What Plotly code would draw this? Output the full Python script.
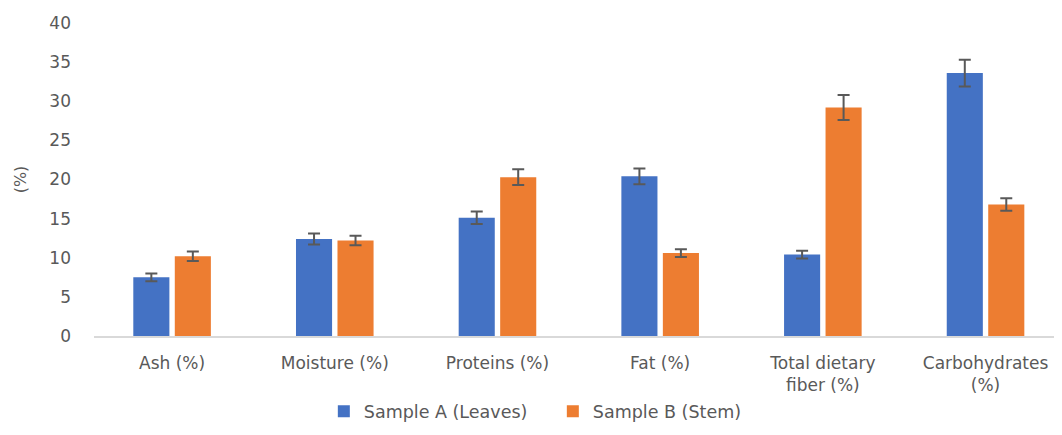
import plotly.graph_objects as go

categories = ["Ash (%)", "Moisture (%)", "Proteins (%)", "Fat (%)",
              "Total dietary<br>fiber (%)", "Carbohydrates<br>(%)"]
sample_a = [7.5, 12.4, 15.1, 20.4, 10.4, 33.6]
sample_a_err = [0.5, 0.7, 0.8, 1.0, 0.5, 1.7]
sample_b = [10.2, 12.2, 20.3, 10.6, 29.2, 16.8]
sample_b_err = [0.6, 0.6, 1.0, 0.5, 1.6, 0.8]
y_ticks = [0, 5, 10, 15, 20, 25, 30, 35, 40]

font_fam = "DejaVu Sans, sans-serif"
gray = "#595959"
fs = 17

fig = go.Figure()
fig.add_trace(go.Bar(
    name="Sample A (Leaves)", x=categories, y=sample_a,
    marker=dict(color="#4472C4", line=dict(width=0)),
    error_y=dict(type="data", array=sample_a_err, color=gray, thickness=2, width=6),
))
fig.add_trace(go.Bar(
    name="Sample B (Stem)", x=categories, y=sample_b,
    marker=dict(color="#ED7D31", line=dict(width=0)),
    error_y=dict(type="data", array=sample_b_err, color=gray, thickness=2, width=6),
))

# page body has an 8px default margin, so the figure is 8px smaller each way
fig.update_layout(
    width=1054, height=427,
    margin=dict(l=86, r=0, t=15, b=99),
    paper_bgcolor="white", plot_bgcolor="white",
    barmode="group", bargap=0.49, bargroupgap=0.13,
    font=dict(family=font_fam, size=fs, color=gray),
    showlegend=True,
    legend=dict(orientation="h", x=0.474, xanchor="center", y=-0.183, yanchor="top",
                font=dict(size=17.5, color=gray), traceorder="normal",
                itemwidth=30, entrywidth=184),
    xaxis=dict(showline=True, linecolor="#D9D9D9", linewidth=1.5, ticks="",
               automargin=False, ticklabelstandoff=11,
               range=[-0.48, 5.47], tickfont=dict(size=fs, color=gray)),
    yaxis=dict(range=[0, 40], tickvals=y_ticks, showgrid=False, zeroline=False,
               showline=False, ticks="", ticklabelstandoff=22, automargin=False,
               tickfont=dict(size=fs, color=gray),
               title=dict(text="(%)", font=dict(size=16, color=gray), standoff=18)),
)

fig.write_html("out.html")
